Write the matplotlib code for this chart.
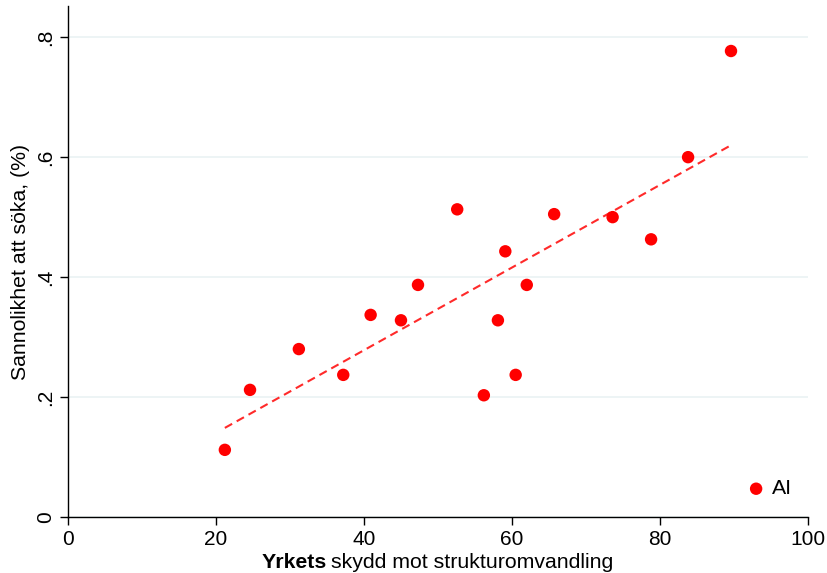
import matplotlib
matplotlib.use("Agg")
import matplotlib.pyplot as plt
import numpy as np

plt.rcParams['font.family'] = ['Liberation Sans', 'DejaVu Sans']

# Yrkets skydd mot strukturomvandling vs sannolikhet att söka
skydd = [21.2, 24.6, 31.2, 37.2, 40.9, 45.0, 47.3, 52.6, 56.2, 58.1,
         59.1, 60.5, 62.0, 65.7, 73.6, 78.8, 83.8, 89.6]
sannolikhet = [0.112, 0.212, 0.280, 0.237, 0.337, 0.328, 0.387, 0.513, 0.203, 0.328,
               0.443, 0.237, 0.387, 0.505, 0.500, 0.463, 0.600, 0.777]
yticks = [0, 0.2, 0.4, 0.6, 0.8]
ytick_labels = ['0', '.2', '.4', '.6', '.8']
xticks = [0, 20, 40, 60, 80, 100]

x = np.array(skydd)
y = np.array(sannolikhet)
k, m = np.polyfit(x, y, 1)
xf = np.array([x.min(), x.max()])

fig = plt.figure(figsize=(8.28, 5.73), dpi=100)
ax = fig.add_axes([0.0821, 0.0977, 0.8937, 0.8918])

for t in yticks:
    ax.axhline(t, color='#eaf2f3', lw=1.2, zorder=0)

ax.plot(xf, k * xf + m, ls=(0, (4, 2.5)), color='#ff2a2a', lw=1.5, zorder=2)
ax.scatter(x, y, s=80, color='#ff0000', edgecolors='none', zorder=3, label='AI')

ax.set_xlim(0, 100)
ax.set_ylim(0, 0.852)
ax.set_xticks(xticks)
ax.set_xticklabels([str(t) for t in xticks])
ax.set_yticks(yticks)
ax.set_yticklabels(ytick_labels, rotation=90, va='center')
ax.tick_params(labelsize=15, length=6, width=1, color='black', pad=3)
ax.spines['top'].set_visible(False)
ax.spines['right'].set_visible(False)
ax.spines['left'].set_linewidth(1)
ax.spines['bottom'].set_linewidth(1)

ax.set_ylabel('Sannolikhet att söka, (%)', fontsize=15.3, labelpad=5)

leg = ax.legend(loc='lower right', frameon=False, fontsize=15.3, handletextpad=0.05,
                handlelength=1.4, bbox_to_anchor=(0.99, 0.02), borderaxespad=0)

# x label with bold first word
fig.canvas.draw()
r = fig.canvas.get_renderer()
t1 = fig.text(262 / 828, 1 - 563 / 573, 'Yrkets', fontsize=15.3, fontweight='bold',
              va='center', ha='left')
bb = t1.get_window_extent(renderer=r)
fig.text(bb.x1 / 828 + 0.005, 1 - 563 / 573, 'skydd mot strukturomvandling',
         fontsize=15.3, va='center', ha='left')

fig.savefig('out.png', dpi=100)
